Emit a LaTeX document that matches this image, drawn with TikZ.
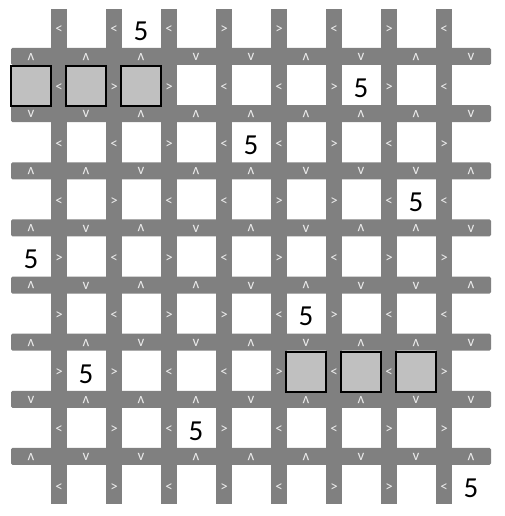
\documentclass[tikz,border=0pt]{standalone}
\usepackage{fontspec}
\setmainfont{Carlito}
\definecolor{band}{RGB}{128,128,128}
\definecolor{shade}{RGB}{192,192,192}
\definecolor{sign}{RGB}{235,235,235}
\newcommand\mysign[1]{\if#1l<\fi\if#1g>\fi}
\begin{document}
\begin{tikzpicture}[x=1pt,y=-1pt,
  sgn/.style={text=sign,font=\fontsize{15}{15}\selectfont,inner sep=0pt},
  num/.style={font=\fontsize{29}{29}\selectfont,inner sep=0pt},
  shadedcell/.style={fill=shade,draw=black,line width=1.5pt},
  bandfill/.style={fill=band}]
\useasboundingbox (0,0) rectangle (505,516);
\fill[white] (0,0) rectangle (505,516);
% vertical bars
\foreach \k in {0,...,7}
  \fill[bandfill] ({51+55*\k},9) rectangle ({67+55*\k},504);
% horizontal bands
\foreach \k in {0,...,7}
  \fill[bandfill, rounded corners=1.5pt] (11,{48+57.14*\k}) rectangle (491,{65+57.14*\k});
% shaded cells
\foreach \c/\r in {0/1,1/1,2/1,5/6,6/6,7/6}
  \draw[shadedcell] ({11+55*\c},{9+57.14*\r}) rectangle ++(40,40);
% horizontal signs (between cells of one row)
\foreach \r/\lst in {
  0/{l,l,l,g,g,l,g,l},
  1/{l,g,g,l,l,g,g,l},
  2/{l,l,g,l,l,g,l,g},
  3/{l,g,l,l,g,g,l,l},
  4/{g,l,g,l,g,l,g,g},
  5/{g,l,g,g,l,g,l,l},
  6/{g,g,l,l,g,l,l,g},
  7/{l,g,l,g,l,l,g,g},
  8/{l,g,l,g,l,g,g,l}}{
  \foreach \s [count=\k from 0] in \lst
    \node[sgn] (h\r-\k) at ({59+55*\k},{30+57.14*\r}) {\mysign{\s}};
}
% vertical signs (between cells of one column)
\foreach \b/\lst in {
  0/{u,u,u,d,d,u,d,u,d},
  1/{d,d,u,u,u,u,u,u,d},
  2/{u,u,d,u,u,d,d,d,u},
  3/{u,d,u,d,u,d,u,u,d},
  4/{u,d,u,u,d,u,d,d,u},
  5/{u,u,d,d,u,d,u,u,d},
  6/{d,u,u,u,d,u,u,d,d},
  7/{u,d,d,u,u,u,d,d,u}}{
  \foreach \s [count=\c from 0] in \lst {
    \if\s u
      \node[sgn,rotate=180] (v\b-\c) at ({31+55*\c},{57+57.14*\b}) {v};
    \else
      \node[sgn] (v\b-\c) at ({31+55*\c},{57+57.14*\b}) {v};
    \fi
  }
}
% numbers
\foreach \c/\r in {2/0,6/1,4/2,7/3,0/4,5/5,1/6,3/7,8/8}
  \node[num] (n\c-\r) at ({31+55*\c},{31+57.14*\r}) {5};
\end{tikzpicture}
\end{document}
